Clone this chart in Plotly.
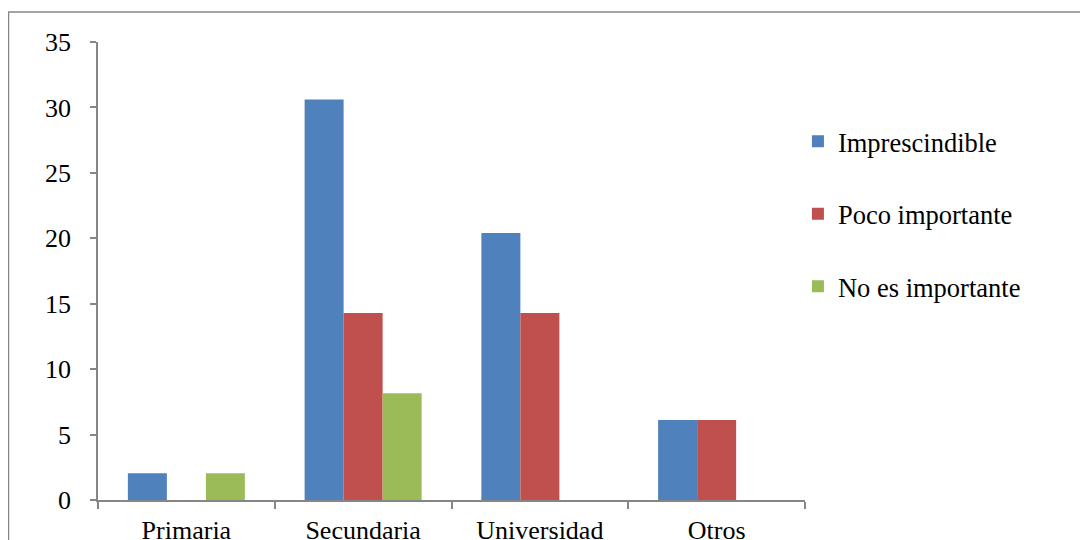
import plotly.graph_objects as go

categories = ["Primaria", "Secundaria", "Universidad", "Otros"]
imprescindible = [2.04, 30.61, 20.41, 6.12]
poco_importante = [0, 14.29, 14.29, 6.12]
no_es_importante = [2.04, 8.16, 0, 0]
series_names = ["Imprescindible", "Poco importante", "No es importante"]
colors = ["#4F81BD", "#C0504D", "#9BBB59"]
y_ticks = [0, 5, 10, 15, 20, 25, 30, 35]

fig = go.Figure()
for i, (name, vals) in enumerate(zip(series_names, [imprescindible, poco_importante, no_es_importante])):
    fig.add_trace(go.Bar(x=categories, y=vals, name=name, marker_color=colors[i],
                         marker_line_width=0, legendgroup=name))

font = "Liberation Serif"
fig.update_layout(
    template="none",
    width=1088, height=540,
    margin=dict(l=90, r=291, t=34, b=48, autoexpand=False),
    paper_bgcolor="white", plot_bgcolor="white",
    barmode="group", bargap=0.338, bargroupgap=0,
    font=dict(family=font, size=26, color="black"),
    showlegend=True,
    legend=dict(x=0.99, xanchor="left", y=0.835, yanchor="top",
                font=dict(family=font, size=26.5, color="black"),
                tracegroupgap=35, bgcolor="rgba(0,0,0,0)", itemwidth=30),
    xaxis=dict(showline=True, linecolor="#868686", linewidth=1.5, automargin=False,
               ticks="outside", tickson="boundaries", ticklen=7, tickcolor="#868686", tickwidth=1.5,
               showgrid=False, ticklabelstandoff=6, zeroline=False,
               tickfont=dict(family=font, size=26, color="black")),
    yaxis=dict(range=[0, 35], tickvals=y_ticks, showline=True, linecolor="#868686", linewidth=1.5,
               automargin=False,
               ticks="outside", ticklen=6, tickcolor="#868686", tickwidth=1.5,
               showgrid=False, zeroline=False, ticklabelstandoff=14,
               tickfont=dict(family=font, size=26, color="black")),
)
fig.add_shape(type="rect", xref="paper", yref="paper",
              x0=-0.1266, y0=1.0655, x1=1.6, y1=-0.3,
              line=dict(color="#868686", width=1.5), layer="below")
fig.write_html("out.html")
